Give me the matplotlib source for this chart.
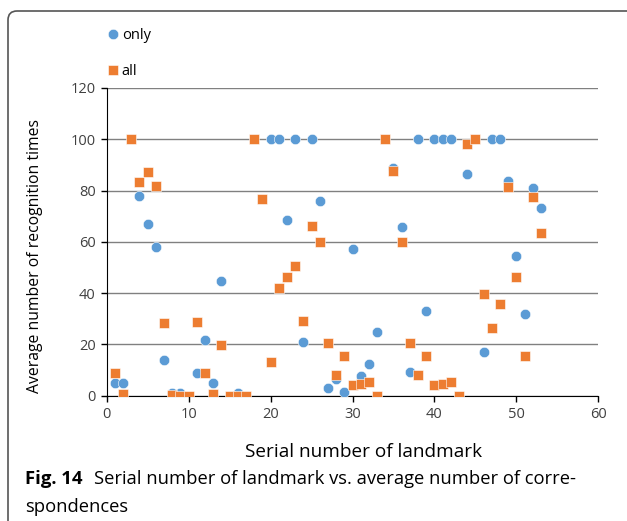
import matplotlib.pyplot as plt
from matplotlib.patches import FancyBboxPatch
from matplotlib.transforms import IdentityTransform

plt.rcParams['font.family'] = ['Open Sans', 'DejaVu Sans']

# landmarks recognised only / in all cases
only_x = [1, 2, 4, 5, 6, 7, 8, 9, 11, 12, 13, 14, 16,
          20, 21, 22, 23, 24, 25, 26, 27, 28, 29, 30, 31, 32, 33,
          35, 36, 37, 38, 39, 40, 41, 42, 44,
          46, 47, 48, 49, 50, 51, 52, 53]
only_y = [4.8, 4.8, 78, 67, 58, 14, 1, 1, 9, 21.7, 5, 44.7, 1,
          100, 100, 68.5, 100, 21, 100, 76, 3, 6.5, 1.6, 57.2, 7.7, 12.2, 25,
          88.7, 65.7, 9.4, 100, 33, 100, 100, 100, 86.5,
          17.2, 100, 100, 83.7, 54.6, 31.7, 81.1, 73.3]

all_x = list(range(1, 54))
all_y = [8.7, 0.5, 100, 83.2, 87.2, 81.8, 28.5, 0.3, 0, 0,
         28.9, 9, 0.5, 19.8, 0, 0, 0, 100, 76.6, 13.3,
         42.1, 46.4, 50.6, 29.3, 66.2, 59.8, 20.7, 8.1, 15.6, 4.2,
         4.4, 5.5, 0, 100, 87.6, 59.8, 20.7, 8.1, 15.6, 4.2,
         4.4, 5.5, 0, 98, 100, 39.5, 26.3, 35.6, 81.3, 46.4,
         15.6, 77.6, 63.3]

x_ticks = [0, 10, 20, 30, 40, 50, 60]
y_ticks = [0, 20, 40, 60, 80, 100, 120]

blue = '#5B9BD5'
orange = '#ED7D31'
W, H = 627, 521

fig = plt.figure(figsize=(W / 100, H / 100), dpi=100)
ax = fig.add_axes([106.7 / W, 1 - 395.7 / H, (598.3 - 106.7) / W, (395.7 - 88) / H])

p1, = ax.plot(only_x, only_y, 'o', color=blue, markersize=7.5, markeredgecolor='white',
              markeredgewidth=0.4, label='only', zorder=3)
p2, = ax.plot(all_x, all_y, 's', color=orange, markersize=7.5, markeredgecolor='white',
              markeredgewidth=0.4, label='all', zorder=4)

ax.set_xlim(0, 60)
ax.set_ylim(0, 120)
ax.set_xticks(x_ticks)
ax.set_yticks(y_ticks)
ax.tick_params(labelsize=10.5, labelcolor='#404040', color='black', length=4, width=1, pad=4)
for s in ['top', 'right']:
    ax.spines[s].set_visible(False)
ax.yaxis.grid(True, color='#808080', linewidth=1)
ax.set_axisbelow(True)

ax.set_xlabel('Serial number of landmark', fontsize=13.7, color='black')
ax.xaxis.set_label_coords((364 - 106.7) / (598.3 - 106.7), -0.155)
ax.set_ylabel('Average number of recognition times', fontsize=11.3, color='black')
ax.yaxis.set_label_coords(-0.13, 0.455)

fig.legend(handles=[p1, p2], loc='upper left', bbox_to_anchor=(100 / W, 1 - 22 / H),
           frameon=False, fontsize=10.5, handletextpad=0.1, labelspacing=1.45,
           handlelength=1.0, borderaxespad=0)

# outer frame with rounded corner
frame = FancyBboxPatch((8, -30), 700, H - 11 + 30, boxstyle='round,pad=0,rounding_size=9',
                       transform=IdentityTransform(), facecolor='none',
                       edgecolor='#555555', linewidth=1.2)
fig.add_artist(frame)

# caption
cap_y = 1 - 479 / H
t1 = fig.text(25 / W, cap_y, 'Fig. 14', fontsize=13.3, fontweight='bold', va='center')
fig.canvas.draw()
bb = t1.get_window_extent()
fig.text((bb.x1 + 11) / W, cap_y,
         'Serial number of landmark vs. average number of corre-',
         fontsize=13.2, va='center')
fig.text(25 / W, 1 - 507 / H, 'spondences', fontsize=13.2, va='center')

fig.savefig('out.png', dpi=100)
